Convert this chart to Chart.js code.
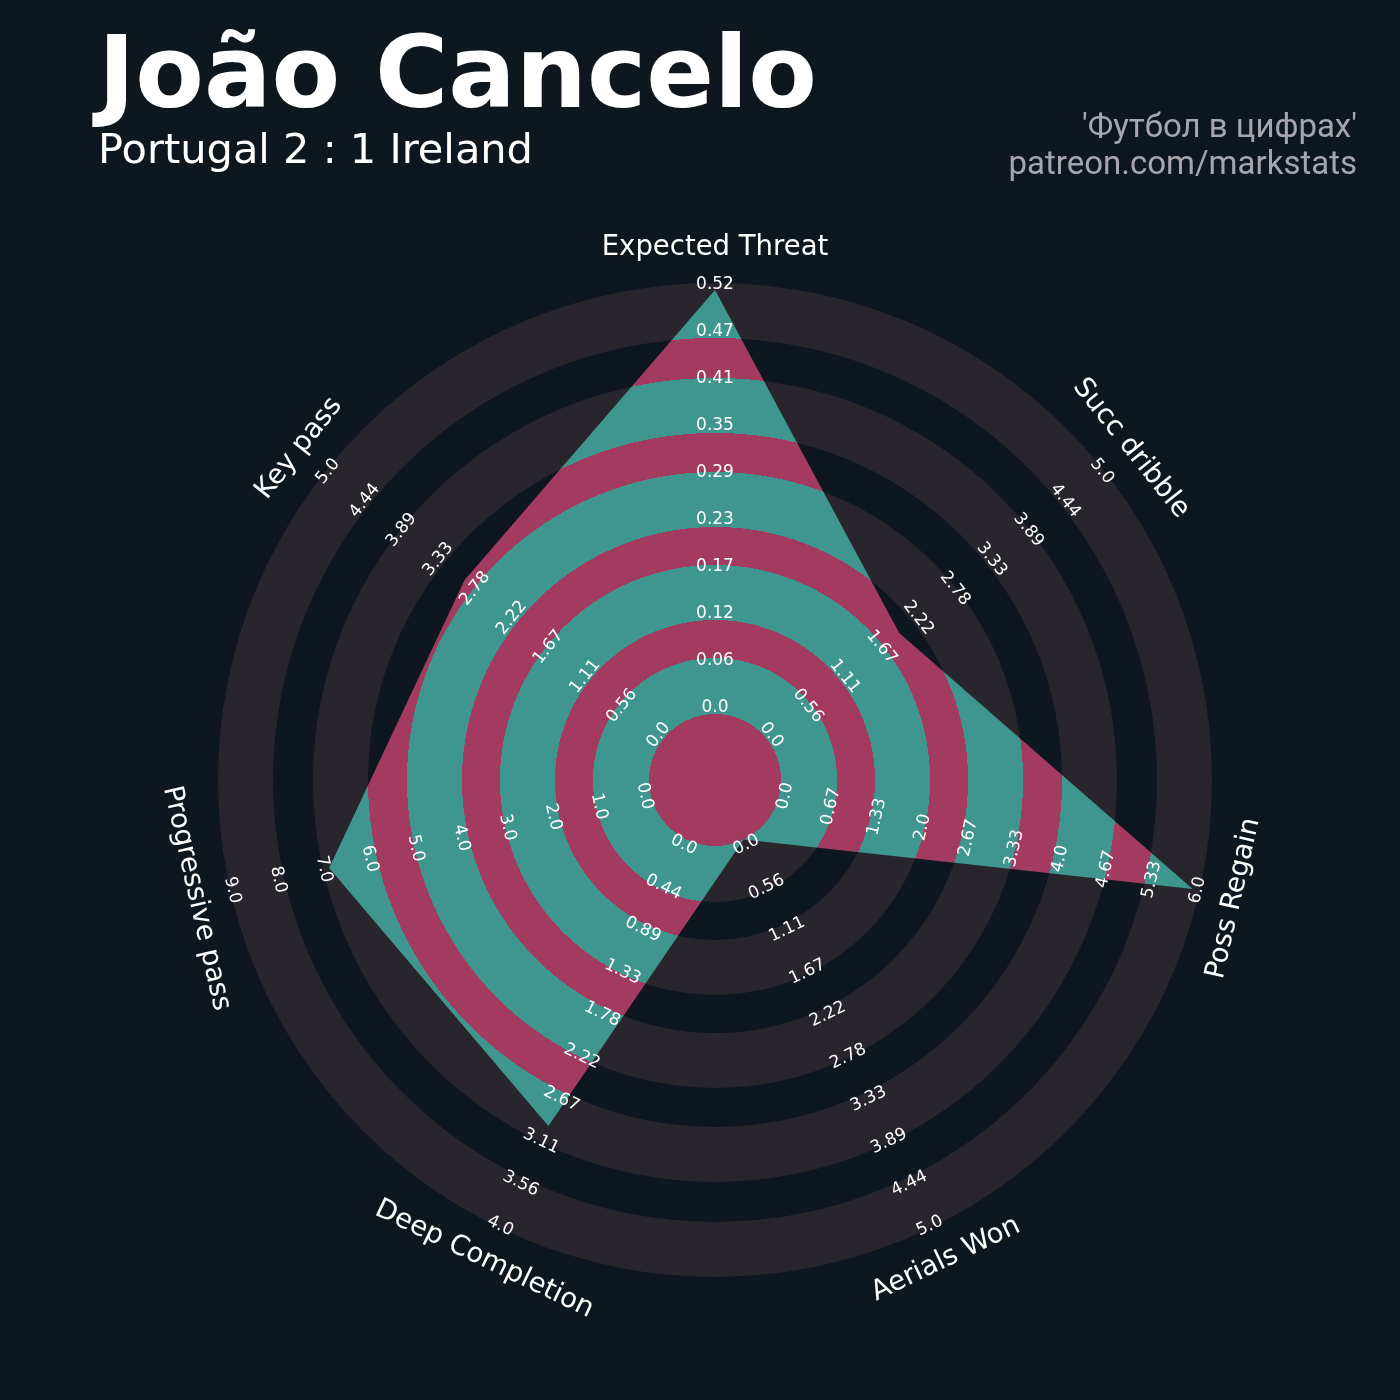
<!DOCTYPE html>
<html>
<head>
<meta charset="utf-8">
<title>João Cancelo radar</title>
<script src="https://cdn.jsdelivr.net/npm/chart.js@4.4.0/dist/chart.umd.min.js"></script>
<style>
  html, body { margin: 0; padding: 0; background: #0e1720; }
  canvas { display: block; }
</style>
</head>
<body>
<canvas id="radar" width="1400" height="1400"></canvas>
<script>
// Chart data
const params = ['Expected Threat', 'Succ dribble', 'Poss Regain', 'Aerials Won', 'Deep Completion', 'Progressive pass', 'Key pass'];
const values = [0.52, 2, 6, 0, 3, 7, 3];
const rangeMin = [0, 0, 0, 0, 0, 0, 0];
const rangeMax = [0.52, 5, 6, 5, 4, 9, 5];

// Tick labels along each axis, centre outwards
const xtTicks = ['0.0', '0.06', '0.12', '0.17', '0.23', '0.29', '0.35', '0.41', '0.47', '0.52'];
const dribbleTicks = ['0.0', '0.56', '1.11', '1.67', '2.22', '2.78', '3.33', '3.89', '4.44', '5.0'];
const regainTicks = ['0.0', '0.67', '1.33', '2.0', '2.67', '3.33', '4.0', '4.67', '5.33', '6.0'];
const aerialTicks = ['0.0', '0.56', '1.11', '1.67', '2.22', '2.78', '3.33', '3.89', '4.44', '5.0'];
const deepTicks = ['0.0', '0.44', '0.89', '1.33', '1.78', '2.22', '2.67', '3.11', '3.56', '4.0'];
const progTicks = ['0.0', '1.0', '2.0', '3.0', '4.0', '5.0', '6.0', '7.0', '8.0', '9.0'];
const keyTicks = ['0.0', '0.56', '1.11', '1.67', '2.22', '2.78', '3.33', '3.89', '4.44', '5.0'];
const tickLabels = [xtTicks, dribbleTicks, regainTicks, aerialTicks, deepTicks, progTicks, keyTicks];

// Text
const title = 'João Cancelo';
const subtitle = 'Portugal 2 : 1 Ireland';
const credits = ["'Футбол в цифрах'", 'patreon.com/markstats'];

// Geometry, in radial scale units (1 unit = 1px from centre)
const OUTER = 497;
const INNER = 66;      // where a zero value sits
const SPAN = 424;      // zero -> max of range
const ringEdges = [66, 122, 160, 215, 253, 308, 347, 402, 442, 497];
const LABEL_R0 = 72;
const LABEL_STEP = 47;
const PARAM_R = 532;

const colors = {
  bg: '#0e1720',
  ring: '#28252c',
  teal: '#3e968f',
  pink: '#a33b61',
  text: '#ffffff',
  credit: '#a6a6ac'
};

// alternating pink / teal bands inside the polygon
function bandFill(context) {
  const chart = context.chart;
  const s = chart.scales.r;
  if (!s || !s.drawingArea) return colors.teal;
  const R = s.drawingArea;
  const g = chart.ctx.createRadialGradient(s.xCenter, s.yCenter, 0, s.xCenter, s.yCenter, R);
  let color = colors.pink;
  g.addColorStop(0, color);
  ringEdges.forEach((edge, i) => {
    const t = Math.min(1, s.getDistanceFromCenterForValue(edge) / R);
    g.addColorStop(t, color);
    if (i < ringEdges.length - 1) {
      color = color === colors.pink ? colors.teal : colors.pink;
      g.addColorStop(t, color);
    }
  });
  return g;
}

// keep text upright like matplotlib does
function readableAngle(k) {
  const a = k * 360 / params.length;
  if (a <= 90) return a;
  if (a < 270) return a - 180;
  return a - 360;
}

function drawRotated(ctx, text, x, y, deg) {
  ctx.save();
  ctx.translate(x, y);
  ctx.rotate(deg * Math.PI / 180);
  ctx.fillText(text, 0, 0);
  ctx.restore();
}

const radarDecor = {
  id: 'radarDecor',
  beforeDraw(chart) {
    const ctx = chart.ctx;
    ctx.save();
    ctx.fillStyle = colors.bg;
    ctx.fillRect(0, 0, chart.width, chart.height);
    ctx.restore();
  },
  beforeDatasetsDraw(chart) {
    const s = chart.scales.r;
    const ctx = chart.ctx;
    ctx.save();
    ctx.fillStyle = colors.ring;
    for (let i = 0; i + 1 < ringEdges.length; i += 2) {
      const r0 = s.getDistanceFromCenterForValue(ringEdges[i]);
      const r1 = s.getDistanceFromCenterForValue(ringEdges[i + 1]);
      ctx.beginPath();
      ctx.arc(s.xCenter, s.yCenter, r1, 0, Math.PI * 2);
      ctx.arc(s.xCenter, s.yCenter, r0, 0, Math.PI * 2, true);
      ctx.fill();
    }
    ctx.restore();
  },
  afterDatasetsDraw(chart) {
    const s = chart.scales.r;
    const ctx = chart.ctx;
    ctx.save();
    ctx.fillStyle = colors.text;
    ctx.textAlign = 'center';
    ctx.textBaseline = 'middle';

    // tick values
    ctx.font = '17px "DejaVu Sans"';
    tickLabels.forEach((ticks, k) => {
      ticks.forEach((label, i) => {
        const p = s.getPointPosition(k, s.getDistanceFromCenterForValue(LABEL_R0 + i * LABEL_STEP));
        drawRotated(ctx, label, p.x, p.y, readableAngle(k));
      });
    });

    // parameter names
    ctx.font = '27.5px "DejaVu Sans"';
    params.forEach((name, k) => {
      const p = s.getPointPosition(k, s.getDistanceFromCenterForValue(PARAM_R));
      drawRotated(ctx, name, p.x, p.y, readableAngle(k));
    });
    ctx.restore();
  },
  afterDraw(chart) {
    const ctx = chart.ctx;
    ctx.save();
    ctx.fillStyle = colors.text;
    ctx.textAlign = 'left';
    ctx.textBaseline = 'alphabetic';
    ctx.font = 'bold 100px "DejaVu Sans"';
    ctx.fillText(title, 98, 107);
    ctx.font = '41.5px "DejaVu Sans"';
    ctx.fillText(subtitle, 98, 163);

    ctx.fillStyle = colors.credit;
    ctx.textAlign = 'right';
    ctx.font = '33px Roboto';
    ctx.fillText(credits[0], 1357, 137);
    ctx.fillText(credits[1], 1357, 174);
    ctx.restore();
  }
};

new Chart(document.getElementById('radar'), {
  type: 'radar',
  data: {
    labels: params,
    datasets: [{
      data: values.map((v, i) => INNER + SPAN * (v - rangeMin[i]) / (rangeMax[i] - rangeMin[i])),
      backgroundColor: bandFill,
      borderColor: 'transparent',
      borderWidth: 0,
      pointRadius: 0,
      tension: 0,
      fill: true
    }]
  },
  options: {
    responsive: false,
    devicePixelRatio: 1,
    animation: false,
    layout: { padding: { left: 218, right: 188, top: 283, bottom: 123 } },
    plugins: {
      legend: { display: false },
      tooltip: { enabled: false }
    },
    scales: {
      r: {
        min: 0,
        max: OUTER,
        ticks: { display: false },
        grid: { display: false },
        angleLines: { display: false },
        pointLabels: { display: false }
      }
    }
  },
  plugins: [radarDecor]
});
</script>
</body>
</html>
